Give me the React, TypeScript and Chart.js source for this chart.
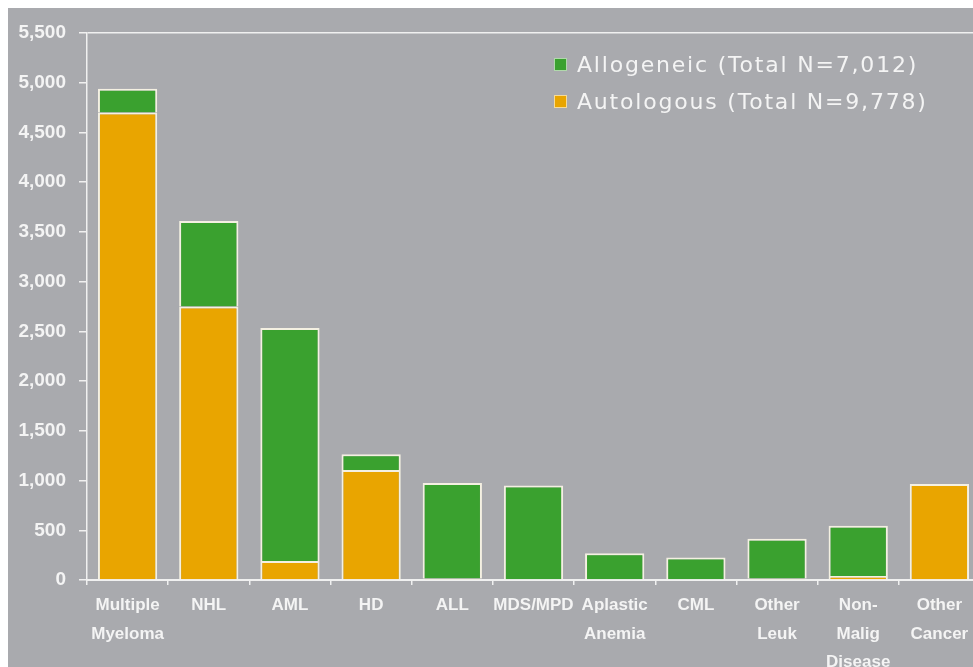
import React, { useEffect, useRef } from 'react';
import { Chart, registerables } from 'chart.js';

Chart.register(...registerables);

const categories: (string | string[])[] = [
  ['Multiple', 'Myeloma'],
  'NHL',
  'AML',
  'HD',
  'ALL',
  'MDS/MPD',
  ['Aplastic', 'Anemia'],
  'CML',
  ['Other', 'Leuk'],
  ['Non-', 'Malig', 'Disease'],
  ['Other', 'Cancer'],
];

const autologous = [4700, 2750, 190, 1105, 15, 0, 0, 0, 15, 40, 965];
const allogeneic = [240, 860, 2345, 160, 960, 950, 270, 225, 400, 505, 0];

const allogeneicLabel = 'Allogeneic (Total N=7,012)';
const autologousLabel = 'Autologous (Total N=9,778)';

const yMin = 0;
const yMax = 5500;
const yStep = 500;

const GREEN = '#3aa12f';
const ORANGE = '#e9a500';
const BG = '#a9aaae';
const LINE = '#f0f0f0';
const TEXT = '#f4f4f4';
const BAR_BORDER = '#f4f0e2';

const legendPlugin = {
  id: 'customLegend',
  afterDatasetsDraw(chart: any) {
    const ctx = chart.ctx as CanvasRenderingContext2D;
    const items = [
      { label: allogeneicLabel, color: GREEN, sqY: 50, baseY: 64 },
      { label: autologousLabel, color: ORANGE, sqY: 87, baseY: 100.5 },
    ];
    ctx.save();
    ctx.font = "22px 'DejaVu Sans', Verdana, sans-serif";
    (ctx as any).letterSpacing = '1.8px';
    ctx.textBaseline = 'alphabetic';
    ctx.textAlign = 'left';
    for (const it of items) {
      ctx.fillStyle = it.color;
      ctx.fillRect(546, it.sqY, 13, 13);
      ctx.strokeStyle = 'rgba(255,255,255,0.6)';
      ctx.lineWidth = 1;
      ctx.strokeRect(546.5, it.sqY + 0.5, 12, 12);
      ctx.fillStyle = TEXT;
      ctx.fillText(it.label, 569, it.baseY);
    }
    ctx.restore();
  },
};

export default function App() {
  const canvasRef = useRef<HTMLCanvasElement | null>(null);

  useEffect(() => {
    if (!canvasRef.current) return;
    const chart = new Chart(canvasRef.current, {
      type: 'bar',
      data: {
        labels: categories as any,
        datasets: [
          {
            label: autologousLabel,
            data: autologous,
            backgroundColor: ORANGE,
            borderColor: BAR_BORDER,
            borderWidth: 2,
          },
          {
            label: allogeneicLabel,
            data: allogeneic,
            backgroundColor: GREEN,
            borderColor: BAR_BORDER,
            borderWidth: 2,
          },
        ],
      },
      options: {
        responsive: false,
        animation: false,
        maintainAspectRatio: false,
        layout: { padding: { top: 25, left: 0, right: 0, bottom: 0 } },
        datasets: {
          bar: { barPercentage: 0.73, categoryPercentage: 1 },
        },
        plugins: {
          legend: { display: false },
          tooltip: { enabled: false },
        },
        scales: {
          x: {
            stacked: true,
            offset: true,
            grid: {
              offset: true,
              drawOnChartArea: false,
              tickLength: 5,
              color: LINE,
              lineWidth: 1.5,
            },
            border: { display: true, color: LINE, width: 2 },
            ticks: {
              autoSkip: false,
              maxRotation: 0,
              minRotation: 0,
              padding: 6,
              color: TEXT,
              font: {
                family: "'Liberation Sans', Arial, sans-serif",
                size: 17,
                weight: 'bold',
                lineHeight: 1.68,
              },
            },
            afterFit: (s: any) => {
              s.height = 87;
            },
          },
          y: {
            stacked: true,
            min: yMin,
            max: yMax,
            grid: {
              color: (c: any) =>
                c.tick && c.tick.value === yMax ? LINE : 'rgba(0,0,0,0)',
              tickColor: LINE,
              tickLength: 8,
              lineWidth: 1.5,
            },
            border: { display: true, color: LINE, width: 1.5 },
            ticks: {
              stepSize: yStep,
              padding: 13,
              color: TEXT,
              font: {
                family: "'Liberation Sans', Arial, sans-serif",
                size: 19,
                weight: 'bold',
              },
              callback: (v: any) => Number(v).toLocaleString('en-US'),
            },
            afterFit: (s: any) => {
              s.width = 79;
            },
          },
        },
      },
      plugins: [legendPlugin],
    });
    return () => chart.destroy();
  }, []);

  return (
    <div
      style={{
        position: 'fixed',
        left: 8,
        top: 8,
        width: 965,
        height: 659,
        overflow: 'hidden',
        background: BG,
      }}
    >
      <canvas
        ref={canvasRef}
        width={972}
        height={659}
        style={{ display: 'block', width: 972, height: 659 }}
      />
    </div>
  );
}
